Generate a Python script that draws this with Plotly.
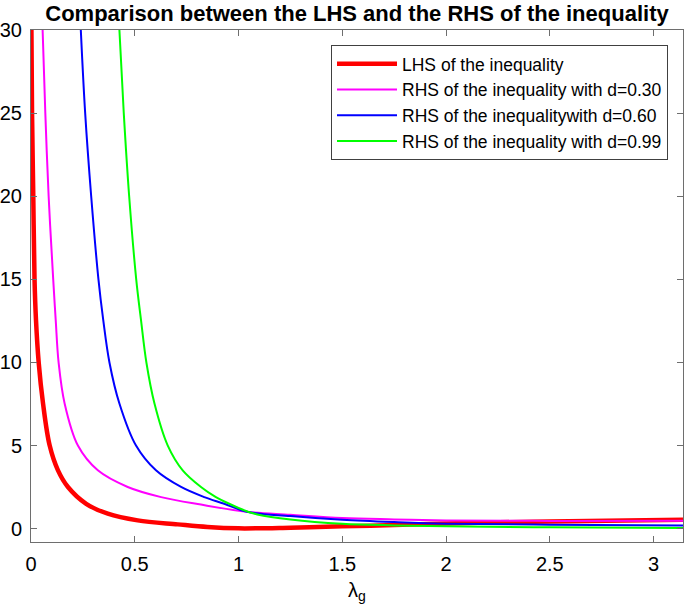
import plotly.graph_objects as go

# LHS curve (red)
x_lhs = [0.002, 0.005, 0.011, 0.017, 0.024, 0.037, 0.058, 0.09, 0.13, 0.178, 0.266, 0.37,
         0.514, 0.707, 0.85, 1.0, 1.25, 1.5, 1.75, 2.0, 2.5, 3.1416]
y_lhs = [30, 25, 20, 15, 12.56, 10, 7.53, 5, 3.51, 2.51, 1.5, 0.9,
         0.5, 0.26, 0.1, 0.02, 0.06, 0.14, 0.22, 0.32, 0.44, 0.54]

# RHS with d=0.30 (magenta)
x_d30 = [0.056, 0.069, 0.085, 0.107, 0.119, 0.133, 0.162, 0.226, 0.322, 0.466, 0.627,
         0.819, 1.04, 1.25, 1.5, 1.75, 2.0, 2.5, 3.1416]
y_d30 = [30, 25, 20, 15, 12.56, 10, 7.53, 5, 3.51, 2.51, 1.9,
         1.45, 1.02, 0.84, 0.64, 0.56, 0.5, 0.47, 0.48]

# RHS with d=0.60 (blue)
x_d60 = [0.240, 0.261, 0.290, 0.325, 0.348, 0.378, 0.426, 0.506, 0.602, 0.723, 0.835,
         0.931, 1.04, 1.25, 1.5, 1.75, 2.0, 2.5, 3.1416]
y_d60 = [30, 25, 20, 15, 12.56, 10, 7.53, 5, 3.51, 2.51, 1.9,
         1.5, 1.02, 0.76, 0.54, 0.4, 0.3, 0.24, 0.2]

# RHS with d=0.99 (green)
x_d99 = [0.426, 0.447, 0.473, 0.507, 0.530, 0.556, 0.595, 0.659, 0.731, 0.819, 0.891,
         0.955, 1.045, 1.09, 1.25, 1.5, 1.75, 2.0, 2.5, 3.1416]
y_d99 = [30, 25, 20, 15, 12.56, 10, 7.53, 5, 3.51, 2.51, 1.9,
         1.5, 1.02, 0.86, 0.56, 0.3, 0.2, 0.14, 0.08, 0.04]

x_ticks = [0, 0.5, 1, 1.5, 2, 2.5, 3]
x_ticktext = ['0', '0.5', '1', '1.5', '2', '2.5', '3']
y_ticks = [0, 5, 10, 15, 20, 25, 30]

FONT = 'Liberation Sans, Arial, Helvetica, sans-serif'

fig = go.Figure()
fig.add_trace(go.Scatter(x=x_lhs, y=y_lhs, mode='lines', name='LHS of the inequality',
                         line=dict(color='#ff0000', width=4.5, shape='spline', smoothing=1.0)))
fig.add_trace(go.Scatter(x=x_d30, y=y_d30, mode='lines', name='RHS of the inequality with d=0.30',
                         line=dict(color='#ff00ff', width=2, shape='spline', smoothing=1.0)))
fig.add_trace(go.Scatter(x=x_d60, y=y_d60, mode='lines', name='RHS of the inequalitywith d=0.60',
                         line=dict(color='#0000ff', width=2, shape='spline', smoothing=1.0)))
fig.add_trace(go.Scatter(x=x_d99, y=y_d99, mode='lines', name='RHS of the inequality with d=0.99',
                         line=dict(color='#00ff00', width=2, shape='spline', smoothing=1.0)))

axis_style = dict(
    showgrid=False, zeroline=False, showline=True, linecolor='#6e6e6e', linewidth=1,
    mirror='allticks', ticks='inside', ticklen=6, tickcolor='#6e6e6e',
    automargin=False, ticklabelstandoff=4,
    tickfont=dict(family=FONT, size=20, color='black'),
)

fig.update_layout(
    width=685, height=615,
    margin=dict(l=31, r=2, t=30, b=73),
    plot_bgcolor='white', paper_bgcolor='white',
    title=dict(text='<b>Comparison between the LHS and the RHS of the inequality</b>',
               x=0.5, xref='paper', xanchor='center', y=0.979, yanchor='middle',
               font=dict(family=FONT, size=22, color='black')),
    xaxis=dict(range=[0, 3.1416], tickvals=x_ticks, ticktext=x_ticktext,
               title=dict(text='λ<sub>g</sub>', standoff=8,
                          font=dict(family=FONT, size=20, color='black')),
               **axis_style),
    yaxis=dict(range=[-0.8, 30], tickvals=y_ticks, **axis_style),
    legend=dict(x=0.977, xanchor='right', y=0.971, yanchor='top',
                bgcolor='white', bordercolor='#404040', borderwidth=1,
                font=dict(family=FONT, size=17.5, color='black'),
                itemwidth=60),
    showlegend=True,
)

# page body has an 8px default margin; drop it so the figure sits at the window corner
fig.write_html("out.html", config={'displayModeBar': False},
               post_script="document.body.style.margin='0px';")
